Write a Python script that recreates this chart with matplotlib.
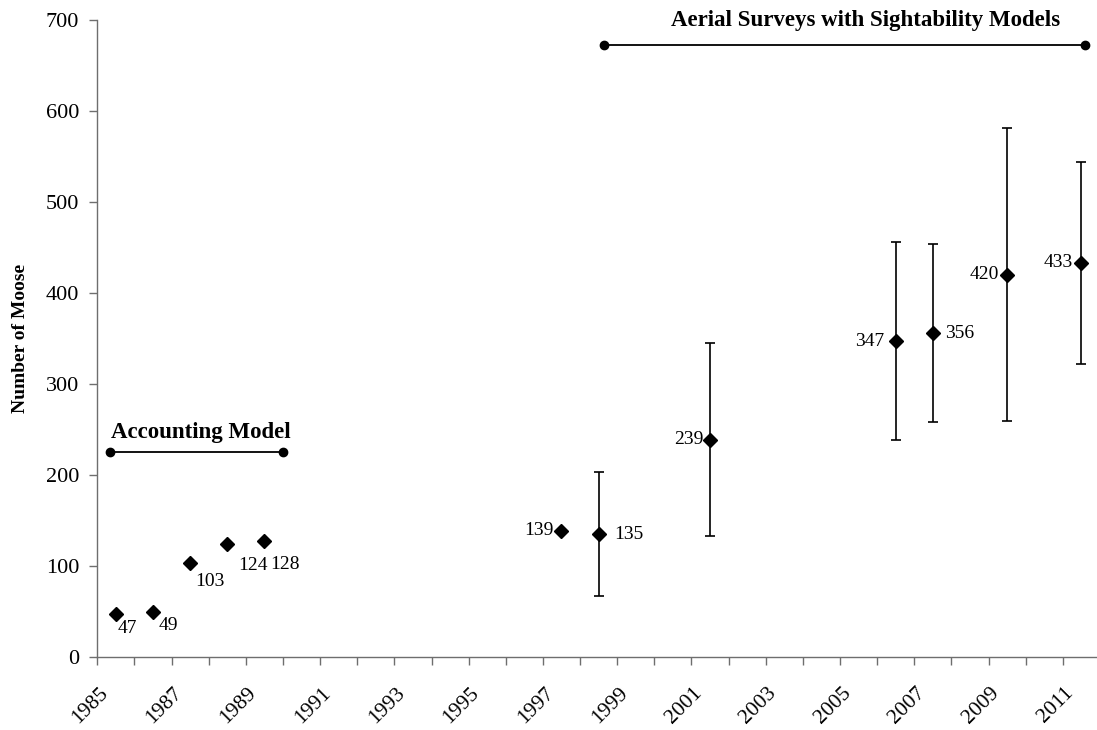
import numpy as np
from matplotlib import pyplot as plt
from matplotlib.transforms import ScaledTranslation

plt.rcParams['font.family'] = ['Liberation Serif', 'DejaVu Serif']

# accounting model estimates (no error bars)
acct_years = [1985.5, 1986.5, 1987.5, 1988.5, 1989.5, 1997.5]
acct_moose = [47, 49, 103, 124, 128, 139]

# aerial survey estimates with confidence limits
aer_years = [1998.5, 2001.5, 2006.5, 2007.5, 2009.5, 2011.5]
aer_moose = [135, 239, 347, 356, 420, 433]
aer_low = [67, 133, 238, 258, 259, 322]
aer_high = [203, 345, 456, 454, 581, 544]

# method periods
acct_period = [1985.35, 1990.0]
acct_level = 225
aer_period = [1998.65, 2011.6]
aer_level = 672

# label offsets in points (dx, dy, ha, va)
acct_offsets = [(1, -4, 'left', 'top'), (4, -3, 'left', 'top'), (4, -7, 'left', 'top'),
                (8, -9, 'left', 'top'), (4, -11, 'left', 'top'), (-6, 0, 'right', 'center')]
aer_offsets = [(11, 0, 'left', 'center'), (-5, 0, 'right', 'center'), (-8, 0, 'right', 'center'),
               (9, 0, 'left', 'center'), (-6, 0, 'right', 'center'), (-6, 0, 'right', 'center')]

fig = plt.figure(figsize=(10.97, 7.3), dpi=100)
ax = fig.add_axes([0.0887, 0.1, 0.914, 0.8726])

ax.plot(acct_years, acct_moose, 'D', color='black', ms=7.5, ls='none')
yerr = [np.array(aer_moose) - np.array(aer_low), np.array(aer_high) - np.array(aer_moose)]
ax.errorbar(aer_years, aer_moose, yerr=yerr, fmt='D', color='black', ms=7.5,
            ecolor='black', elinewidth=1.2, capsize=3.7, capthick=1.2)

for x, y, (dx, dy, ha, va) in zip(acct_years, acct_moose, acct_offsets):
    ax.annotate(str(y), (x, y), xytext=(dx, dy), textcoords='offset points',
                ha=ha, va=va, fontsize=14)
for x, y, (dx, dy, ha, va) in zip(aer_years, aer_moose, aer_offsets):
    ax.annotate(str(y), (x, y), xytext=(dx, dy), textcoords='offset points',
                ha=ha, va=va, fontsize=14)

ax.plot(acct_period, [acct_level] * 2, '-o', color='black', lw=1.3, ms=6, clip_on=False)
ax.plot(aer_period, [aer_level] * 2, '-o', color='black', lw=1.3, ms=6, clip_on=False)
ax.text(1987.8, acct_level + 16, 'Accounting Model', ha='center', va='baseline',
        fontsize=16.5, fontweight='bold')
ax.text(2005.7, aer_level + 21, 'Aerial Surveys with Sightability Models', ha='center',
        va='baseline', fontsize=16.5, fontweight='bold', clip_on=False)

ax.set_xlim(1985, 2012)
ax.set_ylim(0, 700)
ax.set_xticks(np.arange(1985, 2012, 2))
ax.set_xticklabels([str(y) for y in range(1985, 2012, 2)], rotation=45,
                   ha='right', va='center', rotation_mode='anchor')
ax.set_xticks(np.arange(1986, 2013, 2), minor=True)
ax.set_yticks(np.arange(0, 701, 100))
ax.tick_params(axis='both', which='both', direction='out', length=6, width=1,
               color='#6e6e6e', labelsize=16)
ax.tick_params(axis='x', pad=18, labelsize=15.5)
ax.tick_params(axis='y', pad=7)
shift = ScaledTranslation(8 / 100, 0, fig.dpi_scale_trans)
for lbl in ax.get_xticklabels():
    lbl.set_transform(lbl.get_transform() + shift)

for s in ['top', 'right']:
    ax.spines[s].set_visible(False)
for s in ['left', 'bottom']:
    ax.spines[s].set_color('#6e6e6e')
    ax.spines[s].set_linewidth(1)

ax.set_ylabel('Number of Moose', fontsize=14, fontweight='bold')
ax.yaxis.set_label_coords(-0.068, 0.5)

fig.savefig('out.png', dpi=100)
